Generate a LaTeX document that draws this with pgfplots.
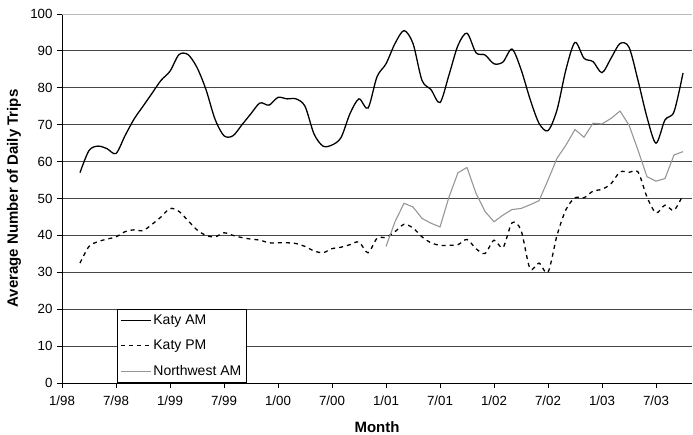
\documentclass[border=0pt]{standalone}
\usepackage{pgfplots}
\usepackage{pgfplotstable}
\pgfplotsset{compat=1.18}
\usepackage{fontspec}
\setmainfont{Liberation Sans}

\definecolor{gridgray}{RGB}{70,70,70}
\definecolor{nwgray}{RGB}{150,150,150}

% month index: 0 = 1/98
\pgfplotstableread{
m v
2 57
3 63
4 64.2
5 63.5
6 62.2
7 67
8 71.5
9 75
10 78.5
11 82
12 84.5
13 89
14 89
15 85.5
16 79.5
17 71.5
18 67
19 67
20 70
21 73
22 75.9
23 75.3
24 77.4
25 77
26 77
27 75
28 67.5
29 64.2
30 64.5
31 66.5
32 73
33 77
34 74.5
35 83
36 86.5
37 92
38 95.5
39 92
40 82
41 79.5
42 76
43 83.5
44 91.5
45 94.8
46 89.5
47 88.9
48 86.5
49 87
50 90.5
51 85
52 77
53 70.4
54 68.4
55 74
56 85
57 92.3
58 88
59 87.1
60 84.1
61 88
62 92
63 91
64 82
65 72
66 65
67 71.3
68 73.5
69 84
}\katyam

\pgfplotstableread{
m v
2 32.5
3 37
4 38.3
5 39
6 39.6
7 41
8 41.5
9 41.3
10 43
11 45
12 47.3
13 46.5
14 44
15 41.5
16 40
17 39.6
18 40.7
19 40
20 39.4
21 39
22 38.7
23 38
24 38
25 38
26 37.8
27 37
28 35.8
29 35.3
30 36.4
31 36.8
32 37.5
33 38.2
34 35.3
35 39.2
36 39.5
37 41
38 43
39 42
40 39.6
41 38
42 37.3
43 37.3
44 37.5
45 38.9
46 36.4
47 35.1
48 38.7
49 36.7
50 43.4
51 41.4
52 31
53 32.5
54 30
55 40
56 47
57 50.2
58 50.2
59 52
60 52.5
61 54
62 57.2
63 57.1
64 57.2
65 50.4
66 46.1
67 48.2
68 46.8
69 51
}\katypm

\pgfplotstableread{
m v
36 37
37 43.7
38 48.7
39 47.7
40 44.6
41 43.3
42 42.3
43 50.4
44 57
45 58.4
46 51.4
47 46.5
48 43.7
49 45.5
50 47
51 47.3
52 48.3
53 49.4
54 55
55 60.9
56 64.5
57 68.7
58 66.6
59 70.4
60 70.2
61 71.7
62 73.7
63 69.9
64 63.1
65 55.9
66 54.7
67 55.4
68 61.8
69 62.7
}\nwam

\begin{document}
\fontsize{13bp}{15bp}\selectfont
\begin{tikzpicture}
\begin{axis}[
    scale only axis,
    width=630bp, height=369bp,
    xmin=0, xmax=70,
    ymin=0, ymax=100,
    axis lines=left,
    axis line style={-, black, line width=0.8pt},
    tick align=outside,
    major tick length=5bp,
    tick style={black, line width=0.8pt},
    xtick={0,6,...,66},
    xticklabels={1/98,7/98,1/99,7/99,1/00,7/00,1/01,7/01,1/02,7/02,1/03,7/03},
    ytick={0,10,...,90},
    extra y ticks={100},
    extra y tick style={major grid style={gray!55, line width=0.8pt}},
    ymajorgrids,
    major grid style={gridgray, line width=0.8pt},
    /pgf/number format/assume math mode=true,
    tick label style={font=\fontsize{13.3bp}{15bp}\selectfont},
    xticklabel style={yshift=-3bp},
    yticklabel style={xshift=0bp},
    xlabel={\textbf{Month}},
    ylabel={\textbf{Average Number of Daily Trips}},
    label style={font=\fontsize{15bp}{17bp}\selectfont},
    xlabel style={at={(axis description cs:0.5,0)}, anchor=center, yshift=-44bp},
    ylabel style={at={(axis description cs:-0.076,0.5)}, anchor=center},
    clip=false,
    legend cell align=left,
    legend style={at={(axis description cs:0.087,0)}, anchor=south west,
        draw=black, line width=0.6pt, fill=white,
        font=\fontsize{14bp}{16bp}\selectfont,
        row sep=10bp, inner sep=3bp},
    legend image code/.code={\draw[#1] (0bp,0bp) -- (30bp,0bp);},
]
\coordinate (ll) at (rel axis cs:0,0);
\coordinate (ur) at (rel axis cs:1,1);
\addplot[black, line width=1.3pt, smooth] table[x=m, y=v] {\katyam};
\addlegendentry{Katy AM}
\addplot[black, line width=1.3pt, smooth, dash pattern=on 4bp off 4bp] table[x=m, y=v] {\katypm};
\addlegendentry{Katy PM}
\addplot[nwgray, line width=1.1pt] table[x=m, y=v] {\nwam};
\addlegendentry{Northwest AM}
\end{axis}
\pgfresetboundingbox
\path ([shift={(-62bp,-51bp)}]ll) rectangle ([shift={(1bp,14bp)}]ur);
\end{tikzpicture}
\end{document}
